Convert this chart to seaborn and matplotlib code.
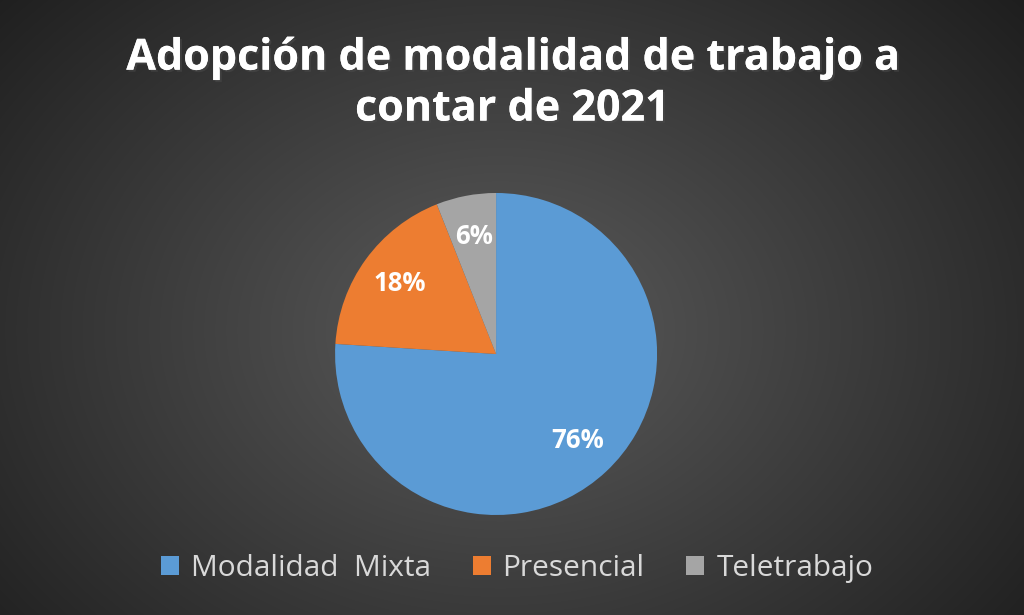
import numpy as np
import seaborn as sns
import matplotlib.pyplot as plt
import matplotlib.patheffects as pe

# datos del grafico
categorias = ['Modalidad  Mixta', 'Presencial', 'Teletrabajo']
porcentajes = [76, 18, 6]
colores = ['#5B9BD5', '#ED7D31', '#A5A5A5']
titulo = 'Adopción de modalidad de trabajo a\ncontar de 2021'

sns.set_theme(style='white')
plt.rcParams['font.family'] = ['Open Sans', 'DejaVu Sans']

fig = plt.figure(figsize=(10.24, 6.15), dpi=100)

# fondo con degradado radial (gris oscuro)
bg = fig.add_axes([0, 0, 1, 1])
yy, xx = np.mgrid[0:615, 0:1024]
r = np.sqrt(((xx - 500) / 620) ** 2 + ((yy - 330) / 470) ** 2)
grad = np.clip(0.36 - 0.22 * r, 0.12, 0.36)
bg.imshow(np.dstack([grad] * 3), aspect='auto', extent=[0, 1, 0, 1])
bg.axis('off')

# pastel
ax = fig.add_axes([0.3272, 0.1626, 0.3145, 0.5236])
wedges, _, autotexts = ax.pie(porcentajes, colors=colores, startangle=90, counterclock=False,
                              autopct='%1.0f%%', pctdistance=0.74,
                              wedgeprops=dict(linewidth=0))
for t in autotexts:
    t.set_color('white')
    t.set_fontsize(18.5)
    t.set_fontweight('bold')
ax.set_xlim(-1, 1)
ax.set_ylim(-1, 1)
ax.set_aspect('equal')

fig.text(0.5, 0.864, titulo, ha='center', va='center', color='white', fontsize=31,
         fontweight='bold', linespacing=1.24,
         path_effects=[pe.withSimplePatchShadow(offset=(1.5, -1.5), alpha=0.5), pe.Normal()])

leg = fig.legend(wedges, categorias, loc='center', bbox_to_anchor=(0.505, 0.076), ncol=3,
                 frameon=False, fontsize=21.5, handlelength=0.6, handleheight=0.6,
                 handletextpad=0.4, columnspacing=1.4, labelcolor='#d9d9d9')

fig.savefig('out.png', dpi=100)
